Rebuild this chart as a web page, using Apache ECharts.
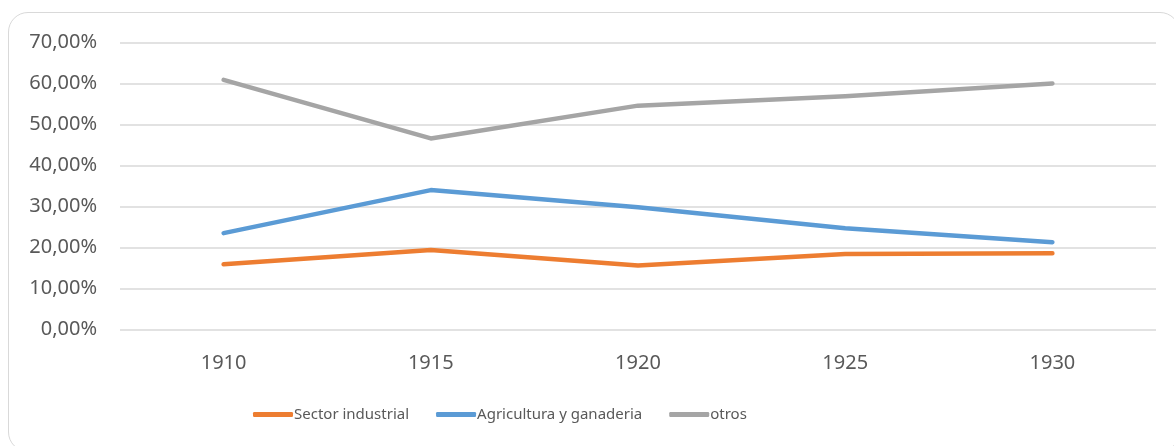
<!DOCTYPE html>
<html>
<head>
<meta charset="utf-8">
<script src="https://cdn.jsdelivr.net/npm/echarts@6/dist/echarts.min.js"></script>
<style>
  html, body { margin: 0; padding: 0; background: #fff; overflow: hidden; }
  #frame {
    position: absolute; left: 8px; top: 12px; width: 1172px; height: 440px;
    border: 1.5px solid #d9d9d9; border-radius: 20px; box-sizing: border-box;
  }
  #chart { position: absolute; left: 0; top: 0; width: 1174px; height: 446px; }
</style>
</head>
<body>
<div id="frame"></div>
<div id="chart"></div>
<script>
// years on the x axis
const years = ['1910', '1915', '1920', '1925', '1930']

// shares per sector (fractions)
const industrial = [0.159, 0.194, 0.156, 0.184, 0.186]
const agricultura = [0.235, 0.340, 0.298, 0.247, 0.213]
const otros = [0.609, 0.466, 0.546, 0.569, 0.600]

const seriesNames = ['Sector industrial', 'Agricultura y ganaderia', 'otros']
const colors = ['#ED7D31', '#5B9BD5', '#A5A5A5']

const font = 'Noto Sans'
const textColor = '#595959'

function pct(v) {
  return (v * 100).toFixed(2).replace('.', ',') + '%'
}

const chart = echarts.init(document.getElementById('chart'))

chart.setOption({
  animation: false,
  color: colors,
  grid: { left: 120, right: 18, top: 42.5, bottom: 116.5 },
  xAxis: {
    type: 'category',
    data: years,
    boundaryGap: true,
    axisLine: { show: false },
    axisTick: { show: false },
    axisLabel: { color: textColor, fontFamily: font, fontSize: 20, margin: 24 },
  },
  yAxis: {
    type: 'value',
    min: 0,
    max: 0.7,
    interval: 0.1,
    axisLine: { show: false },
    axisTick: { show: false },
    axisLabel: { color: textColor, fontFamily: font, fontSize: 20, margin: 23, formatter: pct },
    splitLine: { lineStyle: { color: '#d9d9d9', width: 1.5 } },
  },
  legend: {
    left: 248,
    top: 402,
    itemWidth: 40,
    itemHeight: 5,
    itemGap: 27,
    icon: 'roundRect',
    textStyle: { color: textColor, fontFamily: font, fontSize: 15, padding: [0, 0, 0, -4] },
    data: seriesNames,
  },
  series: [industrial, agricultura, otros].map((d, i) => ({
    name: seriesNames[i],
    type: 'line',
    data: d,
    symbol: 'none',
    lineStyle: { width: 4.5, cap: 'round', join: 'round' },
  })),
})
</script>
</body>
</html>
